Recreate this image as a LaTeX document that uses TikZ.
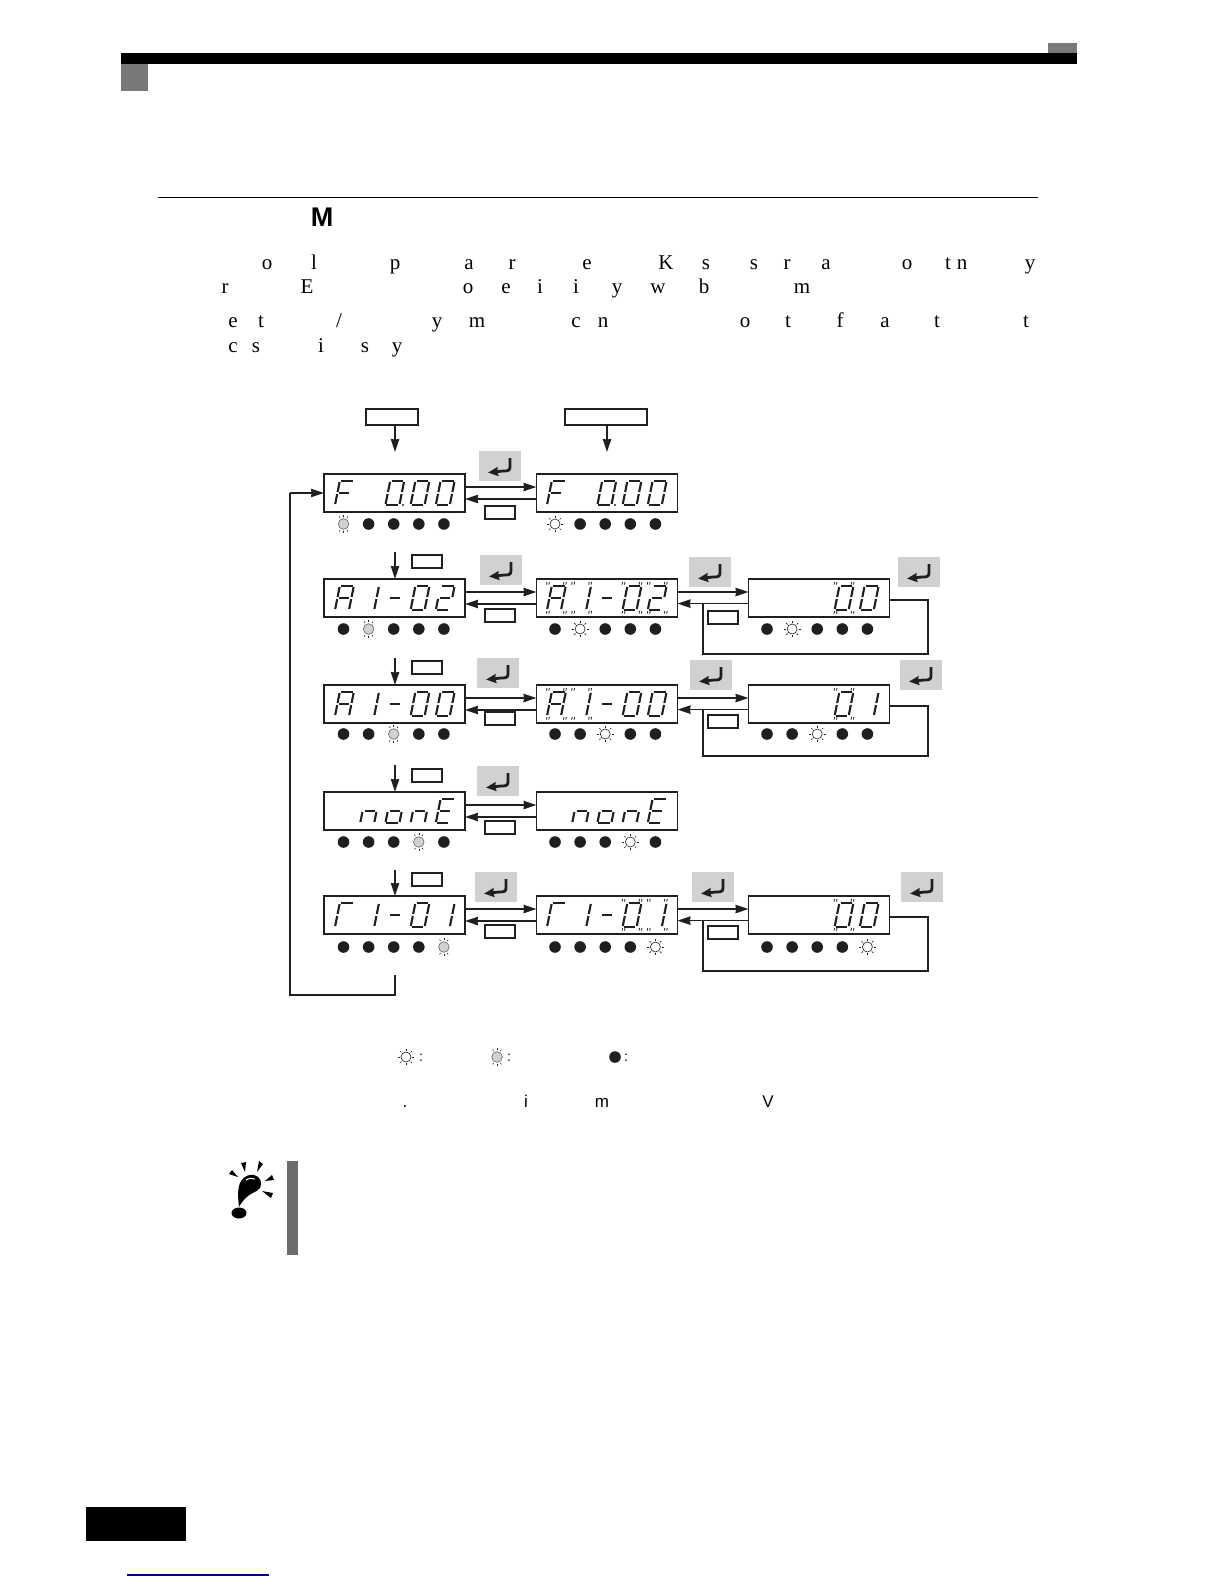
\documentclass[tikz,border=0pt]{standalone}
\usepackage{fontspec}
\setmainfont{Liberation Serif}
\setsansfont{Liberation Sans}
\usetikzlibrary{arrows.meta,calc}
\definecolor{btngray}{gray}{0.82}
\definecolor{dotblk}{gray}{0.12}
\tikzset{
  x=0.5pt,y=-0.5pt,
  dispbox/.style={draw=dotblk,line width=0.9pt,fill=white,minimum width=70.5pt,minimum height=19pt,inner sep=0pt,outer sep=0pt},
  seghor/.style={draw=dotblk,line width=0.75pt},
  segver/.style={draw=dotblk,line width=1.05pt},
  tick/.style={draw=dotblk,line width=0.4pt},
  lbox/.style={draw=dotblk,line width=0.85pt,fill=white,inner sep=0pt,outer sep=0pt,anchor=north west},
  entb/.style={fill=btngray,draw=none,minimum width=21pt,minimum height=15pt,inner sep=0pt,outer sep=0pt,anchor=north west},
  enticon/.style={draw=dotblk,line width=1.4pt,-{Stealth[length=5pt,width=4.4pt,inset=0.4pt]}},
  arr/.style={draw=dotblk,line width=0.75pt,-{Stealth[length=6.5pt,width=4.2pt,inset=0.3pt]}},
  ln/.style={draw=dotblk,line width=0.8pt},
  ledb/.style={circle,fill=dotblk,draw=none,minimum size=5.8pt,inner sep=0pt,outer sep=0pt},
  ledw/.style={circle,fill=white,draw=dotblk,line width=0.3pt,minimum size=5pt,inner sep=0pt,outer sep=0pt},
  ledg/.style={circle,fill=btngray,draw=dotblk!70,line width=0.3pt,minimum size=5.3pt,inner sep=0pt,outer sep=0pt},
  raystyle/.style={draw=dotblk,line width=0.3pt},
  serifl/.style={font=\rmfamily\fontsize{10.5}{12}\selectfont,anchor=base,inner sep=0pt,text=black},
  sansl/.style={font=\sffamily\fontsize{8.5}{10}\selectfont,anchor=base,inner sep=0pt,text=black},
}
% segments
\def\sga{\draw[seghor] (1.5,-24)--(13,-24);}
\def\sgb{\draw[segver] (14,-23)--(14,-13);}
\def\sgc{\draw[segver] (14,-11)--(14,-1);}
\def\sgd{\draw[seghor] (1,0)--(12.5,0);}
\def\sge{\draw[segver] (0,-11)--(0,-1);}
\def\sgf{\draw[segver] (0,-23)--(0,-13);}
\def\sgg{\draw[seghor] (2,-12)--(12,-12);}
\def\dgF{\sga\sgf\sgg\sge}
\def\dgZ{\sga\sgb\sgc\sgd\sge\sgf}
\def\dgT{\sga\sgb\sgg\sge\sgd}
\def\dgA{\sga\sgb\sgc\sge\sgf\sgg}
\def\dgO{\sgb\sgc}
\def\dgM{\sgg}
\def\dgG{\sga\sgf\sge}
\def\dgN{\sgc\sge\sgg}
\def\dgC{\sgc\sgd\sge\sgg}
\def\dgE{\sga\sgf\sgg\sge\sgd}
\newcommand\ticktwo[2]{\draw[tick] (#1,#2)--++(-0.6,2.6) (#1+2.4,#2)--++(-0.6,2.6);}
\newcommand\segdigit[4]{%
  \begin{scope}[shift={(#1,#2)},xslant=.2]#3\end{scope}%
  \ifnum#4=1
    \begin{scope}[shift={(#1,#2)}]
      \ticktwo{0}{-28}\ticktwo{17}{-28}\ticktwo{0}{1}\ticktwo{17}{1}
    \end{scope}
  \fi}
\newcommand\readout[3]{%
  \foreach \sn/\dig/\bl in {#3}{%
    \pgfmathsetmacro\xx{335+25.2*(\sn-1)+#1}%
    \segdigit{\xx}{#2}{\csname dg\dig\endcsname}{\bl}}}
\newcommand\ledrow[5]{% prefix, xbase, y, active, style
  \foreach \i in {1,...,5}{%
    \pgfmathsetmacro\xx{#2+25.1*(\i-1)}%
    \ifnum\i=#4
      \node[#5] (#1\i) at (\xx,#3) {};
      \sunrays{#1\i}{#5}
    \else
      \node[ledb] (#1\i) at (\xx,#3) {};
    \fi}}
\newcommand\sunrays[2]{%
  \def\tmpg{#2}\def\tmpw{ledw}%
  \ifx\tmpg\tmpw
    \foreach \a in {0,45,...,315}{\draw[raystyle] (#1)+(\a:6.4)--+(\a:8.4);}
  \else
    \foreach \a in {60,90,120,240,270,300}{\draw[raystyle] (#1)+(\a:6.8)--+(\a:8.6);}
  \fi}
\newcommand\entbtn[3]{%
  \node[entb] (#1) at (#2,#3) {};
  \draw[enticon] ([xshift=5pt,yshift=4pt]#1.center) -- ([xshift=5pt,yshift=-0.5pt]#1.center) .. controls ([xshift=5pt,yshift=-2.5pt]#1.center) and ([xshift=3.5pt,yshift=-2.5pt]#1.center) .. ([xshift=1.5pt,yshift=-2.5pt]#1.center) -- ([xshift=-6pt,yshift=-3.3pt]#1.center);}
\newcommand\lblbox[5]{% name x1 y1 w h
  \node[lbox,minimum width=#4,minimum height=#5] (#1) at (#2,#3) {};}
\begin{document}
\begin{tikzpicture}
\useasboundingbox (0,0) rectangle (1224,1584);
% page furniture
\fill[black] (121,53) rectangle (1077,64);
\fill[gray!95!black] (121,64) rectangle (148,91);
\fill[gray!95!black] (1048,43) rectangle (1077,53);
\draw[black,line width=0.5pt] (158,197) -- (1038,197);
\fill[black] (86,1507) rectangle (186,1541);
\draw[color={rgb,255:red,0;green,0;blue,140},line width=0.6pt] (127,1575) -- (269,1575);
\node[font=\sffamily\bfseries\fontsize{13.5}{15}\selectfont,anchor=base,inner sep=0pt] (heading) at (322,226) {M};
% scattered body letters
\foreach \lx/\ly/\lt in {267/269/o,314/269/l,395/269/p,469/269/a,512/269/r,587/269/e,666/269/K,706/269/s,754/269/s,787/269/r,826/269/a,907/269/o,948/269/t,962/269/n,1030/269/y,
  225/293/r,307/293/E,468/293/o,506/293/e,540/293/i,576/293/i,617/293/y,658/293/w,704/293/b,802/293/m,
  233/327/e,261/327/t,437/327/y,477/327/m,576/327/c,603/327/n,745/327/o,788/327/t,840/327/f,885/327/a,937/327/t,1026/327/t,
  233/352/c,256/352/s,321/352/i,365/352/s,397/352/y}{
  \node[serifl] (t\lx-\ly) at (\lx,\ly) {\lt};
}
\node[serifl] (tslash) at (339,327) {/};
\foreach \lx/\lt in {405/.,526/i,602/m,768/V}{
  \node[sansl] (s\lx) at (\lx,1107) {\lt};
}
% displays
\foreach \cn/\cx in {1/394.5,2/607,3/819}{
  \foreach \rn/\rt in {1/474,2/579,3/685,4/792,5/896}{
    \pgfmathtruncatemacro\skp{(\cn==3 && (\rn==1 || \rn==4)) ? 1 : 0}
    \ifnum\skp=0
      \pgfmathsetmacro\yy{\rt+19}
      \node[dispbox] (d\rn\cn) at (\cx,\yy) {};
    \fi
  }
}
% digits
\readout{0}{505}{1/F/0,3/Z/0,4/Z/0,5/Z/0}
\readout{212}{505}{1/F/0,3/Z/0,4/Z/0,5/Z/0}
\fill[dotblk] (403,505) circle (1.1);
\fill[dotblk] (615,505) circle (1.1);
\readout{0}{610}{1/A/0,2/O/0,3/M/0,4/Z/0,5/T/0}
\readout{212}{610}{1/A/1,2/O/1,3/M/0,4/Z/1,5/T/1}
\readout{424}{610}{4/Z/1,5/Z/0}
\readout{0}{716}{1/A/0,2/O/0,3/M/0,4/Z/0,5/Z/0}
\readout{212}{716}{1/A/1,2/O/1,3/M/0,4/Z/0,5/Z/0}
\readout{424}{716}{4/Z/1,5/O/0}
\readout{0}{823}{2/N/0,3/C/0,4/N/0,5/E/0}
\readout{212}{823}{2/N/0,3/C/0,4/N/0,5/E/0}
\readout{0}{927}{1/G/0,2/O/0,3/M/0,4/Z/0,5/O/0}
\readout{212}{927}{1/G/0,2/O/0,3/M/0,4/Z/1,5/O/1}
\readout{424}{927}{4/Z/1,5/Z/0}
% LEDs
\ledrow{la}{343.5}{524}{1}{ledg}
\ledrow{lb}{555}{524}{1}{ledw}
\ledrow{lc}{343.5}{629}{2}{ledg}
\ledrow{ld}{555}{629}{2}{ledw}
\ledrow{le}{767}{629}{2}{ledw}
\ledrow{lf}{343.5}{734}{3}{ledg}
\ledrow{lg}{555}{734}{3}{ledw}
\ledrow{lh}{767}{734}{3}{ledw}
\ledrow{li}{343.5}{842}{4}{ledg}
\ledrow{lj}{555}{842}{4}{ledw}
\ledrow{lk}{343.5}{947}{5}{ledg}
\ledrow{ll}{555}{947}{5}{ledw}
\ledrow{lm}{767}{947}{5}{ledw}
% legend
\node[ledw] (legw) at (406,1057) {}; \sunrays{legw}{ledw}
\node[ledg] (legg) at (497,1057) {}; \sunrays{legg}{ledg}
\node[ledb] (legb) at (615,1057) {};
\node[sansl,font=\sffamily\fontsize{7}{8}\selectfont] (colw) at (421,1061) {:};
\node[sansl,font=\sffamily\fontsize{7}{8}\selectfont] (colg) at (509,1061) {:};
\node[sansl,font=\sffamily\fontsize{7}{8}\selectfont] (colb) at (626,1061) {:};
% enter buttons
\entbtn{e11}{479}{451}
\entbtn{e21}{480}{555}
\entbtn{e22}{689}{557}
\entbtn{e23}{898}{557}
\entbtn{e31}{477}{658}
\entbtn{e32}{690}{660}
\entbtn{e33}{900}{660}
\entbtn{e41}{477}{766}
\entbtn{e51}{475}{872}
\entbtn{e52}{692}{872}
\entbtn{e53}{901}{872}
% labelled boxes (blank)
\lblbox{top1}{366}{409}{26pt}{8pt}
\lblbox{top2}{565}{409}{41pt}{8pt}
\lblbox{b1}{485}{506}{15pt}{6.5pt}
\lblbox{b2}{485}{609}{15pt}{6.5pt}
\lblbox{b3}{485}{712}{15pt}{6.5pt}
\lblbox{b4}{485}{821}{15pt}{6.5pt}
\lblbox{b5}{485}{925}{15pt}{6.5pt}
\lblbox{k1}{412}{555}{15pt}{6.5pt}
\lblbox{k2}{412}{661}{15pt}{6.5pt}
\lblbox{k3}{412}{769}{15pt}{6.5pt}
\lblbox{k4}{412}{873}{15pt}{6.5pt}
\lblbox{c1}{708}{611}{15pt}{6.5pt}
\lblbox{c2}{708}{715}{15pt}{6.5pt}
\lblbox{c3}{708}{926}{15pt}{6.5pt}
% connectors
\coordinate (a1) at (395,452); \coordinate (a2) at (607,452);
\draw[arr] (top1.south -| a1) -- (a1);
\draw[arr] (top2.south -| a2) -- (a2);
\coordinate (s2) at (395,552); \coordinate (s3) at (395,658);
\coordinate (s4) at (395,765); \coordinate (s5) at (395,870);
\draw[arr] (s2) -- (d21.north -| s2);
\draw[arr] (s3) -- (d31.north -| s3);
\draw[arr] (s4) -- (d41.north -| s4);
\draw[arr] (s5) -- (d51.north -| s5);
\foreach \r in {1,2,3,4,5}{
  \draw[arr] ([yshift=3pt]d\r1.east) -- ([yshift=3pt]d\r2.west);
  \draw[arr] ([yshift=-3pt]d\r2.west) -- ([yshift=-3pt]d\r1.east);
}
\foreach \r in {2,3,5}{
  \draw[arr] ([yshift=3pt]d\r2.east) -- ([yshift=3pt]d\r3.west);
  \draw[arr] ([yshift=-2.8pt]d\r3.west) -- ([yshift=-2.8pt]d\r2.east);
}
\coordinate (p2a) at (928,654); \coordinate (p2b) at (703,654); \coordinate (p2c) at (703,603.5);
\draw[ln] ([yshift=-1pt]d23.east) -| (p2a) -- (p2b) -- (p2c);
\coordinate (p3a) at (928,756); \coordinate (p3b) at (703,756); \coordinate (p3c) at (703,709.5);
\draw[ln] ([yshift=-1pt]d33.east) -| (p3a) -- (p3b) -- (p3c);
\coordinate (p5a) at (928,971); \coordinate (p5b) at (703,971); \coordinate (p5c) at (703,920.5);
\draw[ln] ([yshift=-1pt]d53.east) -| (p5a) -- (p5b) -- (p5c);
% return loop
\coordinate (ra) at (395,975); \coordinate (rb) at (395,995); \coordinate (rc) at (290,995);
\coordinate (rd) at (290,493);
\draw[ln,line width=0.6pt] (ra) -- (rb) -- (rc) -- (rd);
\draw[arr,line width=0.6pt] (rd) -- (d11.west);
% attention icon
\fill[color={gray!85!black}] (287,1161) rectangle (298,1255);
\fill[black] (239,1213) ellipse (7.5 and 5.5);
\fill[black] (239,1207) .. controls (238,1198) and (237,1188) .. (241,1181) .. controls (244,1176) and (250,1174) .. (254,1175) .. controls (260,1176) and (263,1183) .. (260,1188) .. controls (257,1193) and (247,1192) .. (239,1207) -- cycle;
\draw[white,line width=0.5pt] (246,1180) .. controls (249,1178) and (252,1178) .. (255,1179);
\fill[black] (229,1174) -- (232,1170) -- (238,1177) -- cycle;
\fill[black] (241,1163) -- (246,1162) -- (245,1172) -- cycle;
\fill[black] (259,1161) -- (263,1164) -- (257,1172) -- cycle;
\fill[black] (272,1175) -- (274,1180) -- (265,1181) -- cycle;
\fill[black] (273,1193) -- (271,1198) -- (262,1191) -- cycle;
\end{tikzpicture}
\end{document}
